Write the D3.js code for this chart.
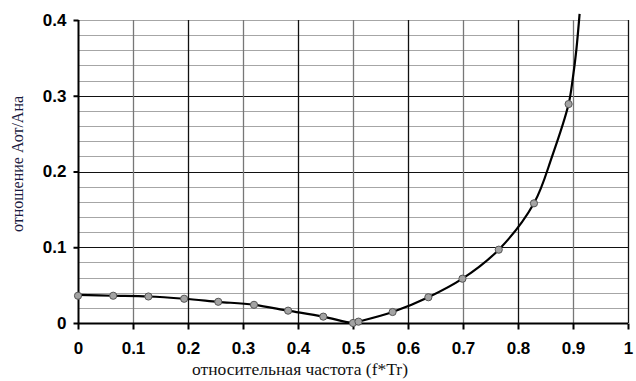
<!DOCTYPE html>
<meta charset="utf-8">
<head>
<script src="https://d3js.org/d3.v7.min.js"></script>
<style>
  body { margin: 0; background: #fff; }
  .tick text { font-family: Arial, "Liberation Sans", sans-serif; font-weight: bold; font-size: 17px; fill: #000; }
</style>
</head>
<body>
<svg width="636" height="381" id="chart"></svg>
<script>
// measured points (markers)
var pointX = [0, 0.064, 0.128, 0.193, 0.255, 0.32, 0.382, 0.446, 0.5, 0.51, 0.572, 0.637, 0.699, 0.765, 0.829, 0.892];
var pointY = [0.036, 0.036, 0.035, 0.032, 0.028, 0.024, 0.0163, 0.0084, 0.0, 0.0018, 0.0145, 0.034, 0.0585, 0.0968, 0.158, 0.289];

// smoothed curve, continues past the last marker to the top
var curveX = [0, 0.064, 0.128, 0.193, 0.255, 0.32, 0.382, 0.446, 0.5, 0.51, 0.572, 0.637, 0.699, 0.765, 0.829, 0.862, 0.892, 0.9, 0.906, 0.912];
var curveY = [0.037, 0.036, 0.035, 0.032, 0.028, 0.024, 0.0163, 0.0084, 0.0, 0.0018, 0.0145, 0.034, 0.0585, 0.0968, 0.158, 0.22, 0.289, 0.325, 0.36, 0.408];

var xTicks = [0, 0.1, 0.2, 0.3, 0.4, 0.5, 0.6, 0.7, 0.8, 0.9, 1];
var yTicks = [0, 0.1, 0.2, 0.3, 0.4];
var yMinor = d3.range(0, 0.401, 0.02);

var svg = d3.select("#chart");
var pLeft = 78, pRight = 628, pTop = 20, pBottom = 323;

var x = d3.scaleLinear().domain([0, 1]).range([pLeft, pRight]);
var y = d3.scaleLinear().domain([0, 0.4]).range([pBottom, pTop]);

var grid = svg.append("g");

// minor horizontal lines
grid.selectAll(".hmin")
  .data(yMinor)
  .enter().append("line")
    .attr("x1", pLeft).attr("x2", pRight)
    .attr("y1", function(d) { return Math.round(y(d)) + 0.5; })
    .attr("y2", function(d) { return Math.round(y(d)) + 0.5; })
    .attr("stroke", "#a6a6a6")
    .attr("stroke-width", 1.2);

// major horizontal lines
grid.selectAll(".hmaj")
  .data(yTicks.slice(1, 4))
  .enter().append("line")
    .attr("x1", pLeft).attr("x2", pRight)
    .attr("y1", function(d) { return Math.round(y(d)) + 0.5; })
    .attr("y2", function(d) { return Math.round(y(d)) + 0.5; })
    .attr("stroke", "#111")
    .attr("stroke-width", 1.2);

// vertical lines
grid.selectAll(".vline")
  .data(xTicks.slice(1))
  .enter().append("line")
    .attr("y1", pTop).attr("y2", pBottom)
    .attr("x1", function(d) { return Math.round(x(d)) + 0.5; })
    .attr("x2", function(d) { return Math.round(x(d)) + 0.5; })
    .attr("stroke", function(d, i) { return i % 2 == 0 ? "#777" : "#111"; })
    .attr("stroke-width", 1.3);

// axes
var xAxis = d3.axisBottom(x)
  .tickValues(xTicks)
  .tickSize(6)
  .tickPadding(12)
  .tickFormat(function(d) { return d === 0 || d === 1 ? d3.format("d")(d) : d3.format(".1f")(d); });

var yAxis = d3.axisLeft(y)
  .tickValues(yTicks)
  .tickSize(5)
  .tickPadding(7)
  .tickFormat(function(d) { return d === 0 ? "0" : d3.format(".1f")(d); });

var gx = svg.append("g")
  .attr("transform", "translate(0," + (pBottom + 0.5) + ")")
  .call(xAxis);
gx.select(".domain").attr("stroke", "#000").attr("stroke-width", 2).attr("d", "M" + pLeft + ",0H" + pRight);
gx.selectAll(".tick line").attr("stroke", "#000").attr("stroke-width", 2);

var gy = svg.append("g")
  .attr("transform", "translate(" + (pLeft + 0.5) + ",0)")
  .call(yAxis);
gy.select(".domain").attr("stroke", "#000").attr("stroke-width", 2).attr("d", "M0," + pTop + "V" + pBottom);
gy.selectAll(".tick line").attr("stroke", "#000").attr("stroke-width", 2);

// curve
var line = d3.line()
  .x(function(d) { return x(d[0]); })
  .y(function(d) { return y(d[1]); })
  .curve(d3.curveCatmullRom);

svg.append("path")
  .datum(d3.zip(curveX, curveY))
  .attr("d", line)
  .attr("fill", "none")
  .attr("stroke", "#000")
  .attr("stroke-width", 2.2);

// markers
svg.selectAll(".pt")
  .data(d3.zip(pointX, pointY))
  .enter().append("circle")
    .attr("cx", function(d) { return x(d[0]); })
    .attr("cy", function(d) { return y(d[1]); })
    .attr("r", 3.6)
    .attr("fill", "#a3a3a3")
    .attr("stroke", "#555")
    .attr("stroke-width", 1);

// axis titles
svg.append("text")
  .attr("x", 300)
  .attr("y", 375)
  .attr("text-anchor", "middle")
  .attr("font-family", "'Liberation Serif', 'DejaVu Serif', serif")
  .attr("font-size", 17.5)
  .attr("fill", "#111")
  .text("относительная частота (f*Tr)");

svg.append("text")
  .attr("transform", "translate(23,164) rotate(-90)")
  .attr("text-anchor", "middle")
  .attr("font-family", "'Liberation Serif', 'DejaVu Serif', serif")
  .attr("font-size", 16)
  .attr("fill", "#1a1a40")
  .text("отношение Аот/Ана");
</script>
</body>
